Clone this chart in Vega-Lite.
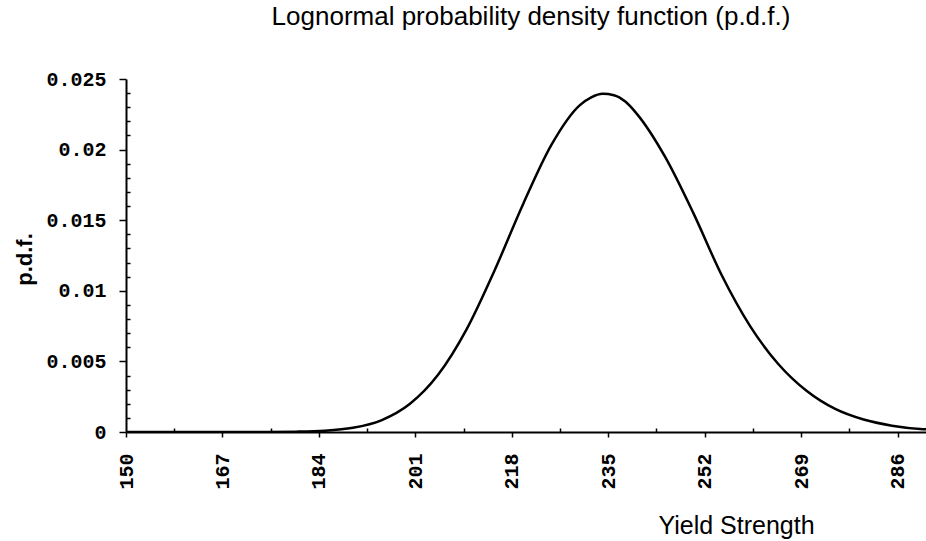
{
  "$schema": "https://vega.github.io/schema/vega-lite/v6.json",
  "autosize": {"type": "none"},
  "width": 800,
  "height": 353,
  "padding": {"left": 126, "top": 79, "right": 0, "bottom": 109},
  "background": "white",
  "title": {
    "text": "Lognormal probability density function (p.d.f.)",
    "font": "Liberation Sans",
    "fontSize": 26,
    "fontWeight": "normal",
    "color": "black",
    "anchor": "middle",
    "frame": "group",
    "baseline": "alphabetic",
    "offset": 18,
    "dx": 5
  },
  "data": {
    "values": [
      {"x": 150, "pdf": 0},
      {"x": 160, "pdf": 0},
      {"x": 170, "pdf": 0.000001},
      {"x": 175, "pdf": 0.000005},
      {"x": 180, "pdf": 0.000024},
      {"x": 185, "pdf": 0.00009},
      {"x": 190, "pdf": 0.0003},
      {"x": 195, "pdf": 0.00083},
      {"x": 200, "pdf": 0.00198},
      {"x": 205, "pdf": 0.00405},
      {"x": 210, "pdf": 0.00725},
      {"x": 215, "pdf": 0.01148},
      {"x": 220, "pdf": 0.01615},
      {"x": 225, "pdf": 0.02035},
      {"x": 230, "pdf": 0.02315},
      {"x": 232, "pdf": 0.0237},
      {"x": 234, "pdf": 0.02395},
      {"x": 236, "pdf": 0.02385},
      {"x": 238, "pdf": 0.0234},
      {"x": 240, "pdf": 0.02255},
      {"x": 245, "pdf": 0.0195},
      {"x": 250, "pdf": 0.0155},
      {"x": 255, "pdf": 0.0111},
      {"x": 260, "pdf": 0.0075},
      {"x": 265, "pdf": 0.0048},
      {"x": 270, "pdf": 0.0029},
      {"x": 275, "pdf": 0.00163},
      {"x": 280, "pdf": 0.00088},
      {"x": 285, "pdf": 0.00045},
      {"x": 290, "pdf": 0.00022},
      {"x": 291, "pdf": 0.0002}
    ]
  },
  "mark": {"type": "line", "color": "black", "strokeWidth": 2.5, "interpolate": "monotone", "clip": true},
  "encoding": {
    "x": {
      "field": "x",
      "type": "quantitative",
      "scale": {"domain": [150, 291], "nice": false, "zero": false},
      "axis": {
        "values": [150, 158.5, 167, 175.5, 184, 192.5, 201, 209.5, 218, 226.5, 235, 243.5, 252, 260.5, 269, 277.5, 286],
        "format": "d",
        "labelExpr": "round((datum.value - 150) * 2) % 34 == 0 ? datum.label : ''",
        "labelAngle": 270,
        "labelAlign": "right",
        "labelBaseline": "middle",
        "labelFont": "Liberation Mono",
        "labelFontSize": 20,
        "labelFontWeight": "bold",
        "labelColor": "black",
        "labelPadding": 16,
        "labelFlush": false,
        "labelOverlap": false,
        "tickSize": {"condition": {"test": "round((datum.value - 150) * 2) % 34 == 0", "value": 5}, "value": -4},
        "tickColor": "black",
        "tickWidth": 1.5,
        "domainColor": "black",
        "domainWidth": 2,
        "grid": false,
        "title": "Yield Strength",
        "titleFont": "Liberation Sans",
        "titleFontSize": 25,
        "titleFontWeight": "normal",
        "titleColor": "black",
        "titleAnchor": null,
        "titleX": 610,
        "titleY": 101,
        "titleAlign": "center",
        "titleBaseline": "alphabetic"
      }
    },
    "y": {
      "field": "pdf",
      "type": "quantitative",
      "scale": {"domain": [0, 0.025], "nice": false},
      "axis": {
        "values": [0, 0.001, 0.002, 0.003, 0.004, 0.005, 0.006, 0.007, 0.008, 0.009, 0.01, 0.011, 0.012, 0.013, 0.014, 0.015, 0.016, 0.017, 0.018, 0.019, 0.02, 0.021, 0.022, 0.023, 0.024, 0.025],
        "format": "~g",
        "labelExpr": "round(datum.value * 1000) % 5 == 0 ? datum.label : ''",
        "labelFont": "Liberation Mono",
        "labelFontSize": 20,
        "labelFontWeight": "bold",
        "labelColor": "black",
        "labelPadding": 13,
        "labelFlush": false,
        "labelOverlap": false,
        "tickSize": {"condition": {"test": "round(datum.value * 1000) % 5 == 0", "value": 7}, "value": -4},
        "tickColor": "black",
        "tickWidth": 1.5,
        "domainColor": "black",
        "domainWidth": 2,
        "grid": false,
        "title": "p.d.f.",
        "titleFont": "Liberation Sans",
        "titleFontSize": 22,
        "titleFontWeight": "bold",
        "titleColor": "black",
        "titleAngle": 270,
        "titleAnchor": null,
        "titleX": -102,
        "titleY": 180,
        "titleAlign": "center",
        "titleBaseline": "middle"
      }
    }
  },
  "config": {"view": {"stroke": null}}
}
